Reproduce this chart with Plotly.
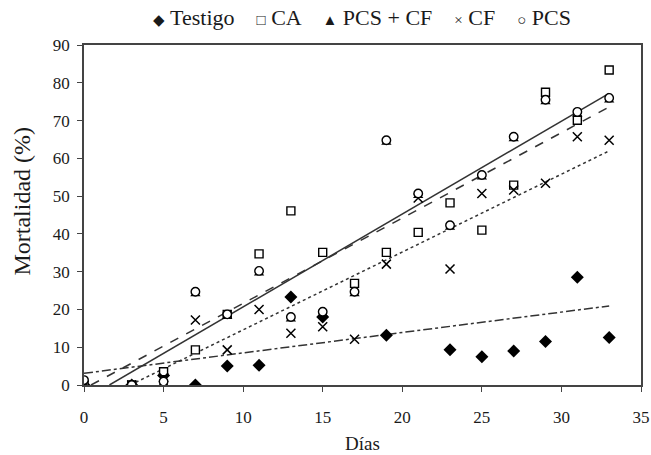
import plotly.graph_objects as go

days = [0, 3, 5, 7, 9, 11, 13, 15, 17, 19, 21, 23, 25, 27, 29, 31, 33]
testigo = [0, 0, 2.5, 0, 5, 5.2, 23.3, 18, None, 13.2, None, 9.3, 7.5, 9, 11.5, 28.5, 12.6]
ca = [0, 0, 3.5, 9.3, 18.7, 34.7, 46.1, 35.1, 26.9, 35.1, 40.4, 48.2, 41, 52.9, 77.5, 70.1, 83.4]
pcs_cf = [0, 0, 0.4, 24.1, 18.1, 29.6, 17.4, 18.8, 24.1, 64.2, 50.1, 41.7, 55.0, 65.1, 74.9, 71.7, 75.4]
cf = [0, 0, 2, 17.2, 9.3, 20, 13.7, 15.4, 12.1, 32, 49.5, 30.7, 50.7, 51.6, 53.4, 65.7, 64.8]
pcs = [1.3, 0, 0.9, 24.7, 18.7, 30.2, 18, 19.4, 24.7, 64.8, 50.7, 42.3, 55.6, 65.7, 75.5, 72.3, 76]

series_names = ["Testigo", "CA", "PCS + CF", "CF", "PCS"]
legend_glyphs = ["\u25C6", "\u25A1", "\u25B2", "\u00D7", "\u25CB"]

# trend lines: (slope, intercept, dash)
trend_slopes = [2.459, 2.26, 2.06, 0.54]
trend_intercepts = [-3.93, -1.0, -6.0, 3.1]
trend_dashes = ["solid", "dash", "dot", "dashdot"]
x_end = 33

x_ticks = [0, 5, 10, 15, 20, 25, 30, 35]
y_ticks = [0, 10, 20, 30, 40, 50, 60, 70, 80, 90]

FONT = "Liberation Serif"
INK = "#1a1a1a"

fig = go.Figure()

for m, b, d in zip(trend_slopes, trend_intercepts, trend_dashes):
    x0 = max(0.0, -b / m)
    fig.add_trace(go.Scatter(
        x=[x0, x_end], y=[m * x0 + b, m * x_end + b], mode="lines",
        line=dict(color="#333333", width=1.5, dash=d),
        showlegend=False, hoverinfo="skip"))

fig.add_trace(go.Scatter(x=days, y=testigo, mode="markers", name=series_names[0],
                         marker=dict(symbol="diamond", size=10, color="black")))
fig.add_trace(go.Scatter(x=days, y=ca, mode="markers", name=series_names[1],
                         marker=dict(symbol="square", size=8, color="white",
                                     line=dict(color="black", width=1.4))))
fig.add_trace(go.Scatter(x=days, y=pcs_cf, mode="markers", name=series_names[2],
                         marker=dict(symbol="triangle-up", size=9, color="black")))
fig.add_trace(go.Scatter(x=days, y=cf, mode="markers", name=series_names[3],
                         marker=dict(symbol="x-thin", size=9,
                                     line=dict(color="black", width=1.5))))
fig.add_trace(go.Scatter(x=days, y=pcs, mode="markers", name=series_names[4],
                         marker=dict(symbol="circle", size=8.5, color="white",
                                     line=dict(color="black", width=1.4))))

legend_text = "    ".join(
    f'<span style="font-size:15px">{g}</span> {n}' for g, n in zip(legend_glyphs, series_names))

fig.update_layout(
    width=651, height=455,
    margin=dict(l=84, r=10, t=45, b=70),
    paper_bgcolor="white", plot_bgcolor="white",
    font=dict(family=FONT, color=INK, size=17),
    showlegend=False,
    annotations=[
        dict(text=legend_text, xref="paper", yref="paper",
             x=(362 - 84) / 557, y=1, yshift=28, xanchor="center", yanchor="middle",
             showarrow=False, font=dict(size=22, color=INK, family=FONT)),
        dict(text="Mortalidad (%)", xref="paper", yref="paper", textangle=-90,
             x=-0.111, y=0.54, xanchor="center", yanchor="middle",
             showarrow=False, font=dict(size=24, color=INK, family=FONT)),
    ],
    xaxis=dict(range=[0, 35], tickvals=x_ticks, ticks="outside", ticklen=5,
               tickcolor="#444", showline=True, linecolor="#444", linewidth=1.5,
               mirror=True, showgrid=False, zeroline=False, automargin=False,
               ticklabelstandoff=11,
               tickfont=dict(size=17, color=INK),
               title=dict(text="Días", font=dict(size=19, color=INK), standoff=11)),
    yaxis=dict(range=[0, 90], tickvals=y_ticks, ticks="outside", ticklen=5,
               tickcolor="#444", showline=True, linecolor="#444", linewidth=1.5,
               mirror=True, showgrid=False, zeroline=False, automargin=False,
               ticklabelstandoff=4,
               tickfont=dict(size=17, color=INK)),
)

# remove the default page margin so the figure fills the window exactly
fig.write_html("out.html", config={"displayModeBar": False},
               post_script="document.body.style.margin='0';")
